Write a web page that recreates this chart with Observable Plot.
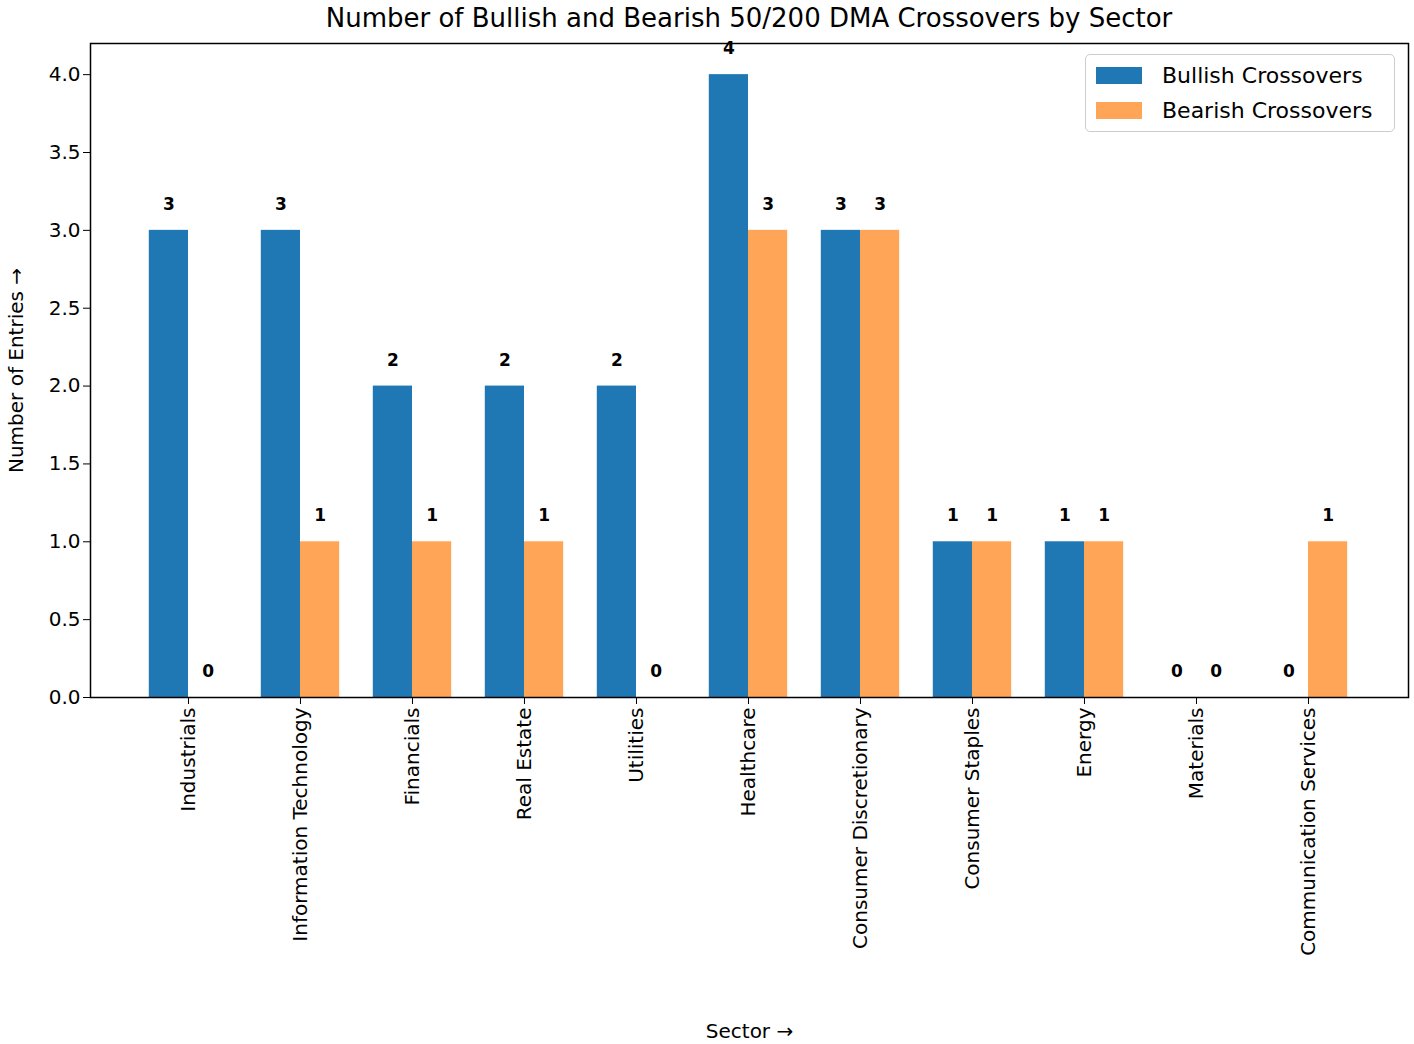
<!DOCTYPE html>
<html><head><meta charset="utf-8">
<script src="https://cdn.jsdelivr.net/npm/d3@7"></script>
<script src="https://cdn.jsdelivr.net/npm/@observablehq/plot@0.6"></script>
<style>
body{margin:0;background:#fff;font-family:"DejaVu Sans",sans-serif;}
#wrap{position:relative;width:1414px;height:1044px;}
#title{position:absolute;top:3px;left:90px;width:1318px;text-align:center;font-size:26px;}
#legend{position:absolute;left:1085px;top:54px;width:308px;height:76px;border:1.5px solid #ccc;border-radius:5px;background:#fff;font-size:22px;}
.li{position:absolute;left:10px;display:flex;align-items:center;}
.sw{width:46px;height:17px;margin-right:20px;}
</style></head>
<body><div id="wrap"><div id="chart"></div><div id="title">Number of Bullish and Bearish 50/200 DMA Crossovers by Sector</div>
<div id="legend"><div class="li" style="top:8px"><div class="sw" style="background:#1f77b4"></div>Bullish Crossovers</div>
<div class="li" style="top:43px"><div class="sw" style="background:#ffa557"></div>Bearish Crossovers</div></div></div>
<script>
const sectors=["Industrials","Information Technology","Financials","Real Estate","Utilities","Healthcare","Consumer Discretionary","Consumer Staples","Energy","Materials","Communication Services"];
const bullish=[3,3,2,2,2,4,3,1,1,0,0];
const bearish=[0,1,1,1,0,3,3,1,1,0,1];
const w=0.35;
const data=sectors.flatMap((s,i)=>[
 {i,s,x1:i-w,x2:i,v:bullish[i],c:"#1f77b4"},
 {i,s,x1:i,x2:i+w,v:bearish[i],c:"#ffa557"}]);
const plot=Plot.plot({
 width:1414,height:1044,marginLeft:90,marginRight:6,marginTop:43,marginBottom:347,
 style:{fontSize:"20px",fontFamily:"DejaVu Sans",color:"#000"},
 x:{domain:[-0.875,10.893],ticks:d3.range(11),tickFormat:i=>sectors[i],tickRotate:-90,label:"Sector",labelAnchor:"center",labelOffset:340,tickSize:7},
 y:{domain:[0,4.2],ticks:d3.range(0,4.01,0.5),tickFormat:d3.format(".1f"),label:"Number of Entries",labelAnchor:"center",labelOffset:82,tickSize:7},
 marks:[
  Plot.rectY(data,{x1:"x1",x2:"x2",y:"v",fill:"c"}),
  Plot.text(data,{x:d=>(d.x1+d.x2)/2,y:"v",text:d=>String(d.v),dy:-26,fontWeight:"bold",fontSize:17}),
  Plot.frame({stroke:"#000",strokeWidth:1.5})
 ]});
document.getElementById("chart").appendChild(plot);
</script></body></html>
